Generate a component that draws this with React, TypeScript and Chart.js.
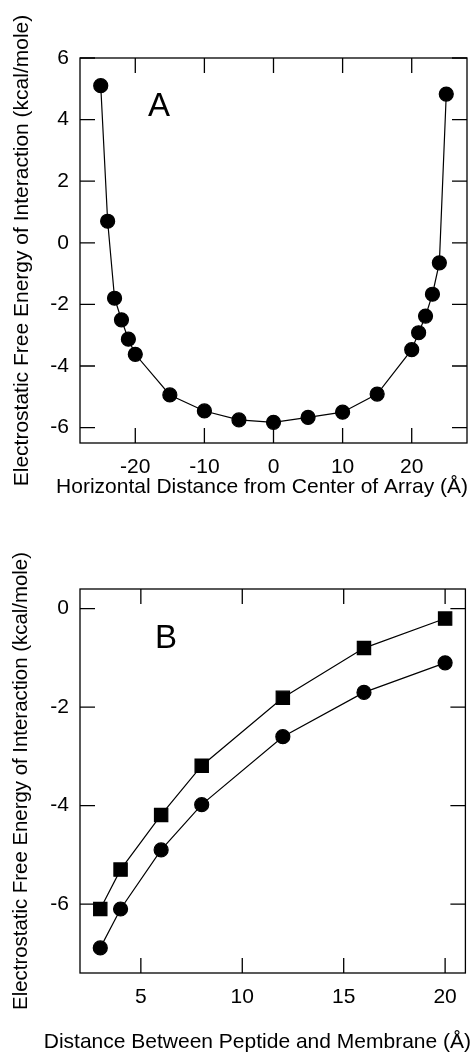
import React, { useEffect, useRef } from "react";
import { Chart, registerables } from "chart.js";

Chart.register(...registerables);

// Panel A data
const A_X = [-25, -24, -23, -22, -21, -20, -15, -10, -5, 0, 5, 10, 15, 20, 21, 22, 23, 24, 25];
const A_Y = [5.1, 0.7, -1.8, -2.5, -3.13, -3.62, -4.94, -5.46, -5.75, -5.83, -5.67, -5.5, -4.91, -3.47, -2.92, -2.38, -1.67, -0.65, 4.83];
const A_X_TICKS = [-20, -10, 0, 10, 20];
const A_Y_TICKS = [-6, -4, -2, 0, 2, 4, 6];

// Panel B data
const B_X = [3, 4, 6, 8, 12, 16, 20];
const B_SQUARES = [-6.1, -5.3, -4.19, -3.19, -1.81, -0.8, -0.2];
const B_CIRCLES = [-6.89, -6.1, -4.9, -3.98, -2.6, -1.7, -1.1];
const B_X_TICKS = [5, 10, 15, 20];
const B_Y_TICKS = [-6, -4, -2, 0];

const Y_TITLE = "Electrostatic Free Energy of Interaction (kcal/mole)";
const A_X_TITLE = "Horizontal Distance from Center of Array (Å)";
const B_X_TITLE = "Distance Between Peptide and Membrane (Å)";

const FONT = "'Liberation Sans', Arial, Helvetica, sans-serif";

function framePlugin(p: any) {
  return {
    id: "frame" + p.label,
    afterDraw(chart: any) {
      const { ctx, chartArea } = chart;
      const { left, right, top, bottom } = chartArea;
      const x = chart.scales.x;
      const y = chart.scales.y;
      ctx.save();
      ctx.strokeStyle = "#000";
      ctx.lineWidth = 1.3;
      ctx.strokeRect(left, top, right - left, bottom - top);
      const TL = 15;
      ctx.beginPath();
      x.ticks.forEach((t: any) => {
        const px = x.getPixelForValue(t.value);
        ctx.moveTo(px, bottom);
        ctx.lineTo(px, bottom - TL);
        ctx.moveTo(px, top);
        ctx.lineTo(px, top + TL);
      });
      y.ticks.forEach((t: any) => {
        const py = y.getPixelForValue(t.value);
        ctx.moveTo(left, py);
        ctx.lineTo(left + TL, py);
        ctx.moveTo(right, py);
        ctx.lineTo(right - TL, py);
      });
      ctx.stroke();
      ctx.fillStyle = "#000";
      ctx.font = `33px ${FONT}`;
      ctx.textAlign = "left";
      ctx.textBaseline = "alphabetic";
      ctx.fillText(p.label, left + p.dx, top + p.dy);
      // x axis title, right-aligned, not squeezed to the plot width
      ctx.font = `${p.xTitleSize}px ${FONT}`;
      ctx.textAlign = "right";
      ctx.textBaseline = "middle";
      ctx.fillText(p.xTitle, p.xTitleRight, p.xTitleY);
      ctx.restore();
    },
  };
}

function makeOptions(p: any) {
  return {
    animation: false,
    responsive: false,
    maintainAspectRatio: false,
    layout: { padding: { top: p.padTop, right: 9, left: 0, bottom: 0 } },
    plugins: { legend: { display: false }, tooltip: { enabled: false } },
    scales: {
      x: {
        type: "linear",
        min: p.xMin,
        max: p.xMax,
        grid: { display: false, drawTicks: false },
        border: { display: false },
        afterBuildTicks: (s: any) => {
          s.ticks = p.xTicks.map((v: number) => ({ value: v }));
        },
        afterFit: (s: any) => {
          s.height = p.xAxisH;
        },
        ticks: {
          color: "#000",
          padding: 12,
          font: { family: FONT, size: 21 },
          callback: (v: any) => String(v),
        },
        title: { display: false },
      },
      y: {
        type: "linear",
        min: p.yMin,
        max: p.yMax,
        grid: { display: false, drawTicks: false },
        border: { display: false },
        afterBuildTicks: (s: any) => {
          s.ticks = p.yTicks.map((v: number) => ({ value: v }));
        },
        afterFit: (s: any) => {
          s.width = 80;
        },
        ticks: {
          color: "#000",
          padding: 11,
          font: { family: FONT, size: 21 },
          callback: (v: any) => String(v),
        },
        title: {
          display: true,
          text: Y_TITLE,
          color: "#000",
          font: { family: FONT, size: p.yTitleSize, lineHeight: 1 },
          padding: { top: p.yTitlePad, bottom: 0 },
        },
      },
    },
  };
}

function ChartA() {
  const ref = useRef<HTMLCanvasElement>(null);
  useEffect(() => {
    const chart = new Chart(ref.current as HTMLCanvasElement, {
      type: "line",
      data: {
        datasets: [
          {
            data: A_X.map((x, i) => ({ x, y: A_Y[i] })),
            borderColor: "#000",
            backgroundColor: "#000",
            borderWidth: 1.2,
            pointRadius: 7,
            pointStyle: "circle",
            pointBackgroundColor: "#000",
            pointBorderColor: "#000",
            tension: 0,
          },
        ],
      },
      options: makeOptions({
        padTop: 58,
        xMin: -28,
        xMax: 28,
        yMin: -6.5,
        yMax: 6,
        xTicks: A_X_TICKS,
        yTicks: A_Y_TICKS,
        xAxisH: 57,
        yTitlePad: 12,
        yTitleSize: 21,
      }) as any,
      plugins: [
        framePlugin({
          label: "A",
          dx: 68,
          dy: 58,
          xTitle: A_X_TITLE,
          xTitleSize: 21,
          xTitleRight: 468,
          xTitleY: 487,
        }),
      ],
    });
    return () => chart.destroy();
  }, []);
  return (
    <canvas
      ref={ref}
      width={476}
      height={500}
      style={{ position: "absolute", left: 0, top: 0, width: 476, height: 500 }}
    />
  );
}

function ChartB() {
  const ref = useRef<HTMLCanvasElement>(null);
  useEffect(() => {
    const chart = new Chart(ref.current as HTMLCanvasElement, {
      type: "line",
      data: {
        datasets: [
          {
            data: B_X.map((x, i) => ({ x, y: B_SQUARES[i] })),
            borderColor: "#000",
            backgroundColor: "#000",
            borderWidth: 1.2,
            pointRadius: 9.4,
            pointStyle: "rect",
            pointBackgroundColor: "#000",
            pointBorderColor: "#000",
            tension: 0,
          },
          {
            data: B_X.map((x, i) => ({ x, y: B_CIRCLES[i] })),
            borderColor: "#000",
            backgroundColor: "#000",
            borderWidth: 1.2,
            pointRadius: 7,
            pointStyle: "circle",
            pointBackgroundColor: "#000",
            pointBorderColor: "#000",
            tension: 0,
          },
        ],
      },
      options: makeOptions({
        padTop: 84,
        xMin: 2,
        xMax: 21,
        yMin: -7.4,
        yMax: 0.4,
        xTicks: B_X_TICKS,
        yTicks: B_Y_TICKS,
        xAxisH: 80,
        yTitlePad: 11,
        yTitleSize: 20.4,
      }) as any,
      plugins: [
        framePlugin({
          label: "B",
          dx: 75,
          dy: 59,
          xTitle: B_X_TITLE,
          xTitleSize: 21,
          xTitleRight: 471,
          xTitleY: 537,
        }),
      ],
    });
    return () => chart.destroy();
  }, []);
  return (
    <canvas
      ref={ref}
      width={476}
      height={548}
      style={{ position: "absolute", left: 0, top: 505, width: 476, height: 548 }}
    />
  );
}

export default function App() {
  return (
    <div
      style={{
        position: "absolute",
        left: 0,
        top: 0,
        width: 476,
        height: 1053,
        background: "#fff",
        overflow: "hidden",
      }}
    >
      <ChartA />
      <ChartB />
    </div>
  );
}
